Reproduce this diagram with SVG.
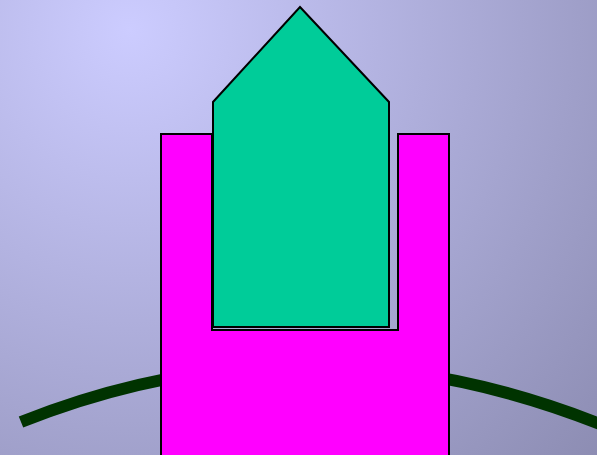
<svg xmlns="http://www.w3.org/2000/svg" width="597" height="455" viewBox="0 0 597 455">
  <defs>
    <radialGradient id="bg" gradientUnits="userSpaceOnUse" cx="130" cy="30" r="640">
      <stop offset="0" stop-color="#ccccff"/>
      <stop offset="1" stop-color="#8c8cb2"/>
    </radialGradient>
  </defs>
  <style>
    .shape { stroke: #000000; stroke-width: 2; stroke-linejoin: miter; }
    .rope { fill: none; stroke: #003300; stroke-width: 12; }
  </style>
  <rect x="0" y="0" width="597" height="455" fill="url(#bg)"/>
  <g id="rope">
    <path class="rope" d="M 21 422 Q 307 308 600 424"/>
  </g>
  <g id="cradle">
    <path class="shape" fill="#ff00ff" d="M 161 134 L 212 134 L 212 330 L 398 330 L 398 134 L 449 134 L 449 456 L 161 456 Z"/>
  </g>
  <g id="pentagon">
    <path class="shape" fill="#00cc99" d="M 300 7 L 389 102 L 389 327 L 213 327 L 213 102 Z"/>
  </g>
</svg>
